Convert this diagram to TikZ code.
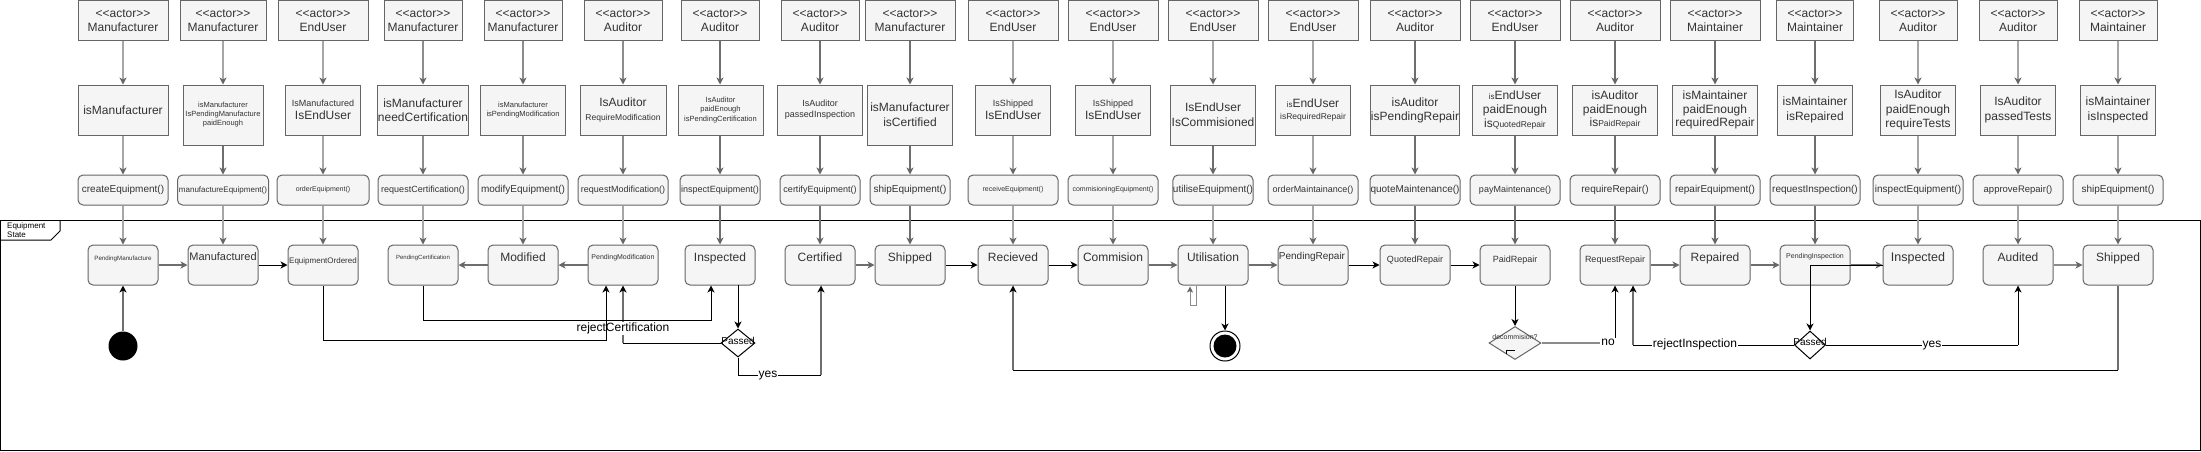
\documentclass[tikz,border=0pt]{standalone}
\usepackage{fontspec}
\setmainfont{Liberation Sans}
\usetikzlibrary{arrows.meta,shapes.geometric,calc}
\definecolor{bx}{HTML}{666666}
\definecolor{fl}{HTML}{F5F5F5}
\definecolor{tx}{HTML}{333333}
\definecolor{lg}{HTML}{A6A6A6}
\definecolor{mg}{HTML}{8C8C8C}
\definecolor{dg}{HTML}{6E6E6E}
\definecolor{ah}{HTML}{666666}
\newcommand\fsz[2]{\fontsize{#1}{#2}\selectfont}
\newcommand\actr{<{}<actor>{}>}
\begin{document}
\begin{tikzpicture}[x=1pt,y=-1pt,
 actor/.style={rectangle,draw=bx,fill=fl,text=tx,line width=1pt,inner sep=0pt,minimum height=40pt,align=center,font=\fsz{12}{14}},
 guard/.style={rectangle,draw=bx,fill=fl,text=tx,line width=1pt,inner sep=0pt,align=center,font=\fsz{12}{14}},
 meth/.style={rectangle,rounded corners=5pt,draw=bx,fill=fl,text=tx,line width=1pt,inner sep=0pt,minimum height=30pt,align=center},
 st/.style={rectangle,rounded corners=5pt,draw=bx,fill=fl,line width=1pt,inner sep=0pt,minimum width=70pt,minimum height=40pt},
 stl/.style={text=tx,inner sep=0pt,anchor=mid},
 tipg/.style={-{Stealth[length=7pt,width=7pt,inset=2pt,color=ah]}},
 tipk/.style={-{Stealth[length=7pt,width=7pt,inset=2pt,color=black]}},
 cg/.style={draw=dg,line width=1.2pt,tipg},
 ck/.style={draw=black,line width=1pt,tipk},
 lbl/.style={fill=white,inner sep=1pt,text=black,font=\fsz{12}{14},anchor=mid},
 dia/.style={diamond,draw=black,fill=white,line width=1pt,inner sep=0pt},
]
\useasboundingbox (0,0) rectangle (2201,451);
% frame
\draw[black,line width=1pt] (0.5,220) rectangle (2200,450);
\draw[black,line width=1pt] (0.5,240) -- (51,240) -- (60,231) -- (60,220);
\node[anchor=north west,align=left,font=\fsz{8}{9.5},text=black,inner sep=0pt] (frl) at (7,222) {Equipment\\State};

% actors
\node[actor,minimum width=90pt] (a1) at (123,20.5) {\actr\\Manufacturer};
\node[actor,minimum width=86pt] (a2) at (223,20.5) {\actr\\Manufacturer};
\node[actor,minimum width=90pt] (a3) at (323,20.5) {\actr\\EndUser};
\node[actor,minimum width=78pt] (a4) at (423,20.5) {\actr\\Manufacturer};
\node[actor,minimum width=78pt] (a5) at (523,20.5) {\actr\\Manufacturer};
\node[actor,minimum width=78pt] (a6) at (623,20.5) {\actr\\Auditor};
\node[actor,minimum width=78pt] (a7) at (720,20.5) {\actr\\Auditor};
\node[actor,minimum width=78pt] (a8) at (820,20.5) {\actr\\Auditor};
\node[actor,minimum width=90pt] (a9) at (910,20.5) {\actr\\Manufacturer};
\node[actor,minimum width=90pt] (a10) at (1013,20.5) {\actr\\EndUser};
\node[actor,minimum width=90pt] (a11) at (1113,20.5) {\actr\\EndUser};
\node[actor,minimum width=90pt] (a12) at (1213,20.5) {\actr\\EndUser};
\node[actor,minimum width=90pt] (a13) at (1313,20.5) {\actr\\EndUser};
\node[actor,minimum width=90pt] (a14) at (1415,20.5) {\actr\\Auditor};
\node[actor,minimum width=90pt] (a15) at (1515,20.5) {\actr\\EndUser};
\node[actor,minimum width=90pt] (a16) at (1615,20.5) {\actr\\Auditor};
\node[actor,minimum width=90pt] (a17) at (1715,20.5) {\actr\\Maintainer};
\node[actor,minimum width=77pt] (a18) at (1815,20.5) {\actr\\Maintainer};
\node[actor,minimum width=78pt] (a19) at (1918,20.5) {\actr\\Auditor};
\node[actor,minimum width=78pt] (a20) at (2018,20.5) {\actr\\Auditor};
\node[actor,minimum width=78pt] (a21) at (2118,20.5) {\actr\\Maintainer};

% guards
\node[guard,minimum width=90pt,minimum height=50pt] (g1) at (123,110) {isManufacturer};
\node[guard,minimum width=80pt,minimum height=60pt,font=\fsz{7.5}{9}] (g2) at (223,115) {isManufacturer\\IsPendingManufacture\\paidEnough};
\node[guard,minimum width=75pt,minimum height=50pt,font=\fsz{12}{13}] (g3) at (323,110) {{\fsz{9}{11}IsManufactured}\\IsEndUser};
\node[guard,minimum width=86pt,minimum height=50pt] (g4) at (423,110) {isManufacturer\\needCertification};
\node[guard,minimum width=85pt,minimum height=50pt,font=\fsz{7.5}{9.5}] (g5) at (523,110) {isManufacturer\\isPendingModification};
\node[guard,minimum width=86pt,minimum height=50pt] (g6) at (623,110) {IsAuditor\\{\fsz{8.5}{10}RequireModification}};
\node[guard,minimum width=85pt,minimum height=50pt,font=\fsz{7.5}{9.5}] (g7) at (720.5,110) {IsAuditor\\paidEnough\\isPendingCertification};
\node[guard,minimum width=85pt,minimum height=50pt,font=\fsz{9}{11}] (g8) at (820,110) {IsAuditor\\passedInspection};
\node[guard,minimum width=85pt,minimum height=60pt,font=\fsz{12}{15}] (g9) at (910,115) {isManufacturer\\isCertified};
\node[guard,minimum width=75pt,minimum height=50pt,font=\fsz{12}{13}] (g10) at (1013,110) {{\fsz{9}{11}IsShipped}\\IsEndUser};
\node[guard,minimum width=75pt,minimum height=50pt,font=\fsz{12}{13}] (g11) at (1113,110) {{\fsz{9}{11}IsShipped}\\IsEndUser};
\node[guard,minimum width=85pt,minimum height=60pt,font=\fsz{12}{15}] (g12) at (1213,115) {IsEndUser\\IsCommisioned};
\node[guard,minimum width=75pt,minimum height=50pt,font=\fsz{12}{12}] (g13) at (1313,110) {{\fsz{8}{9}is}EndUser\\{\fsz{8.5}{10}isRequiredRepair}};
\node[guard,minimum width=83pt,minimum height=50pt] (g14) at (1415,110) {isAuditor\\isPendingRepair};
\node[guard,minimum width=85pt,minimum height=50pt] (g15) at (1515,110) {{\fsz{8}{9}is}EndUser\\paidEnough\\is{\fsz{8.5}{10}QuotedRepair}};
\node[guard,minimum width=85pt,minimum height=50pt,font=\fsz{12}{13.5}] (g16) at (1615,110) {isAuditor\\paidEnough\\is{\fsz{8.5}{10}PaidRepair}};
\node[guard,minimum width=85pt,minimum height=50pt,font=\fsz{12}{13.5}] (g17) at (1715,110) {isMaintainer\\paidEnough\\requiredRepair};
\node[guard,minimum width=75pt,minimum height=50pt,font=\fsz{12}{15}] (g18) at (1815,110) {isMaintainer\\isRepaired};
\node[guard,minimum width=75pt,minimum height=50pt,font=\fsz{12}{14.5}] (g19) at (1918,110) {IsAuditor\\paidEnough\\requireTests};
\node[guard,minimum width=75pt,minimum height=50pt,font=\fsz{12}{15}] (g20) at (2018,110) {IsAuditor\\passedTests};
\node[guard,minimum width=75pt,minimum height=50pt,font=\fsz{12}{15}] (g21) at (2118,110) {isMaintainer\\isInspected};

% methods
\node[meth,minimum width=90pt,font=\fsz{10}{12}] (m1) at (123,190) {createEquipment()};
\node[meth,minimum width=91pt,font=\fsz{8}{10}] (m2) at (223,190) {manufactureEquipment()};
\node[meth,minimum width=92pt,font=\fsz{7}{9}] (m3) at (323,190) {orderEquipment()};
\node[meth,minimum width=90pt,font=\fsz{9}{11}] (m4) at (423,190) {requestCertification()};
\node[meth,minimum width=90pt,font=\fsz{10}{12}] (m5) at (523,190) {modifyEquipment()};
\node[meth,minimum width=90pt,font=\fsz{9}{11}] (m6) at (623,190) {requestModification()};
\node[meth,minimum width=80pt,font=\fsz{9}{11}] (m7) at (720,190) {inspectEquipment()};
\node[meth,minimum width=80pt,font=\fsz{9}{11}] (m8) at (820,190) {certifyEquipment()};
\node[meth,minimum width=80pt,font=\fsz{10}{12}] (m9) at (910,190) {shipEquipment()};
\node[meth,minimum width=90pt,font=\fsz{7}{9}] (m10) at (1013,190) {receiveEquipment()};
\node[meth,minimum width=90pt,font=\fsz{7}{9}] (m11) at (1113,190) {commisioningEquipment()};
\node[meth,minimum width=80pt,font=\fsz{10}{12}] (m12) at (1213,190) {utiliseEquipment()};
\node[meth,minimum width=90pt,font=\fsz{9}{11}] (m13) at (1313,190) {orderMaintainance()};
\node[meth,minimum width=90pt,font=\fsz{10}{12}] (m14) at (1415,190) {quoteMaintenance()};
\node[meth,minimum width=90pt,font=\fsz{9}{11}] (m15) at (1515,190) {payMaintenance()};
\node[meth,minimum width=90pt,font=\fsz{10}{12}] (m16) at (1615,190) {requireRepair()};
\node[meth,minimum width=90pt,font=\fsz{10}{12}] (m17) at (1715,190) {repairEquipment()};
\node[meth,minimum width=90pt,font=\fsz{10}{12}] (m18) at (1815,190) {requestInspection()};
\node[meth,minimum width=90pt,font=\fsz{10}{12}] (m19) at (1918,190) {inspectEquipment()};
\node[meth,minimum width=90pt,font=\fsz{9.5}{12}] (m20) at (2018,190) {approveRepair()};
\node[meth,minimum width=90pt,font=\fsz{10}{12}] (m21) at (2118,190) {shipEquipment()};

% states
\foreach \i/\x in {1/123,2/223,3/323,4/423,5/523,6/623,7/720,8/820,9/910,10/1013,11/1113,12/1213,13/1313,14/1415,15/1515,16/1615,17/1715,18/1815,19/1918,20/2018,21/2118}
  {\node[st] (s\i) at (\x,265) {};}
\node[stl,font=\fsz{6.2}{7}] (t1) at (123,258) {PendingManufacture};
\node[stl,font=\fsz{11}{13}] (t2) at (223,258) {Manufactured};
\node[stl,font=\fsz{8}{10}] (t3) at (323,261) {EquipmentOrdered};
\node[stl,font=\fsz{6}{7}] (t4) at (423,257) {PendingCertification};
\node[stl,font=\fsz{12}{14}] (t5) at (523,259) {Modified};
\node[stl,font=\fsz{7}{8}] (t6) at (623,257) {PendingModification};
\node[stl,font=\fsz{12}{14}] (t7) at (720,259) {Inspected};
\node[stl,font=\fsz{12}{14}] (t8) at (820,259) {Certified};
\node[stl,font=\fsz{12}{14}] (t9) at (910,259) {Shipped};
\node[stl,font=\fsz{12}{14}] (t10) at (1013,259) {Recieved};
\node[stl,font=\fsz{12}{14}] (t11) at (1113,259) {Commision};
\node[stl,font=\fsz{12}{14}] (t12) at (1213,259) {Utilisation};
\node[stl,font=\fsz{10}{12}] (t13) at (1312,257) {PendingRepair};
\node[stl,font=\fsz{9}{11}] (t14) at (1415,260) {QuotedRepair};
\node[stl,font=\fsz{9}{11}] (t15) at (1515,260) {PaidRepair};
\node[stl,font=\fsz{9}{11}] (t16) at (1615,260) {RequestRepair};
\node[stl,font=\fsz{12}{14}] (t17) at (1715,259) {Repaired};
\node[stl,font=\fsz{7}{8}] (t18) at (1815,256) {PendingInspection};
\node[stl,font=\fsz{12.5}{14}] (t19) at (1918,259) {Inspected};
\node[stl,font=\fsz{12}{14}] (t20) at (2018,259) {Audited};
\node[stl,font=\fsz{12}{14}] (t21) at (2118,259) {Shipped};

% vertical flow arrows
\foreach \i/\ca/\cb/\cc in {1/lg/lg/lg,2/lg/dg/lg,3/lg/lg/lg,4/mg/mg/lg,5/mg/mg/lg,6/mg/mg/lg,7/dg/dg/dg,8/dg/dg/dg,9/dg/dg/dg,10/lg/lg/lg,11/lg/lg/lg,12/lg/dg/lg,13/lg/lg/lg,14/dg/dg/dg,15/dg/dg/dg,16/dg/dg/dg,17/dg/dg/dg,18/dg/dg/dg,19/lg/lg/lg,20/lg/lg/lg,21/lg/lg/lg}
{
  \draw[tipg,draw=\ca,line width=1.2pt] (a\i.south) -- (a\i.south |- g\i.north);
  \draw[tipg,draw=\cb,line width=1.2pt] (g\i.south -| a\i.south) -- (a\i.south |- m\i.north);
  \draw[tipg,draw=\cc,line width=1.2pt] (m\i.south -| a\i.south) -- (a\i.south |- s\i.north);
}

% horizontal state transitions
\draw[cg] (s1) -- (s2);
\draw[ck] (s2) -- (s3);
\draw[cg] (s5) -- (s4);
\draw[cg] (s6) -- (s5);
\draw[cg] (s8) -- (s9);
\draw[ck] (s9) -- (s10);
\draw[ck] (s10) -- (s11);
\draw[cg] (s11) -- (s12);
\draw[cg] (s12) -- (s13);
\draw[ck] (s13) -- (s14);
\draw[ck] (s14) -- (s15);
\draw[cg] (s16) -- (s17);
\draw[cg] (s17) -- (s18);
\draw[cg] (s18) -- (s19);
\draw[cg,draw=mg] (s20) -- (s21);

% initial and final states
\node[circle,fill=black,minimum size=29pt,inner sep=0pt] (init) at (123,346) {};
\draw[line width=1.5pt,draw=dg,tipk] (init) -- (s1);
\node[circle,draw=black,line width=1pt,fill=white,minimum size=30pt,inner sep=0pt] (fin) at (1225,346) {};
\node[circle,fill=black,minimum size=23pt,inner sep=0pt] (fini) at (1225,346) {};
\draw[ck] (s12.south -| fin) -- (fin);
% Utilisation tiny self loop
\coordinate (u1) at ($(s12.south)+(-17,0)$);
\coordinate (u2) at ($(s12.south)+(-17,20)$);
\coordinate (u3) at ($(s12.south)+(-23,20)$);
\coordinate (u4) at ($(s12.south)+(-23,1)$);
\draw[draw=mg,line width=1pt,-{Stealth[length=6pt,width=6pt,inset=1.5pt,color=ah]}] (u1) -- (u2) -- (u3) -- (u4);

% first Passed diamond
\node[dia,minimum width=34pt,minimum height=28pt] (d1) at (738,343) {};
\node[inner sep=0pt,font=\fsz{10}{12},text=black] (d1t) at (738,341) {Passed};
\coordinate (i7) at (738,285);
\draw[ck] (i7) -- (d1.north);
% reject certification
\coordinate (r1) at (623,343);
\draw[draw=black,line width=1pt] (d1.west) -- (r1);
\draw[draw=dg,line width=1.2pt,tipk] (r1) -- (s6.south);
\node[lbl] (rcl) at (623,329) {rejectCertification};
% EquipmentOrdered -> PendingModification
\coordinate (e1) at (323,340);
\coordinate (e2) at (606,340);
\draw[ck] (s3.south) -- (e1) -- (e2) -- (e2 |- s6.south);
% PendingCertification -> Inspected
\coordinate (p1) at (423,320);
\coordinate (p2) at (711,320);
\draw[ck] (s4.south) -- (p1) -- (p2) -- (p2 |- s7.south);
% yes -> Certified
\coordinate (y1) at (738,375);
\coordinate (y2) at (821,375);
\draw[draw=black,line width=1pt] (d1.south) -- (y1) -- (y2);
\draw[draw=dg,line width=1.2pt,tipk] (y2) -- (y2 |- s8.south);
\node[lbl] (yl1) at (768,375) {yes};

% Shipped -> Recieved return
\coordinate (b1) at (2118,370);
\coordinate (b2) at (1013,370);
\draw[draw=dg,line width=1.2pt] (s21.south) -- (b1);
\draw[draw=black,line width=1pt] (b1) -- (b2);
\draw[draw=dg,line width=1.2pt,tipk] (b2) -- (s10.south);

% decommision diamond
\node[diamond,draw=bx,fill=fl,line width=1pt,inner sep=0pt,minimum width=52pt,minimum height=33pt] (d2) at (1515,343) {};
\node[inner sep=0pt,font=\fsz{7}{8},text=tx] (d2t) at (1515,337) {decommision?};
\draw[black,line width=0.8pt] (1506.7,354) -- (1506.7,350.7) -- (1515.3,350.7);
\draw[ck] (s15.south) -- (d2.north);
\coordinate (n1) at (1615,343);
\draw[draw=mg,line width=1.5pt] (d2.east) -- (n1);
\draw[ck] (n1) -- (s16.south);
\node[lbl] (nl) at (1608,343) {no};

% second Passed diamond
\node[dia,minimum width=31pt,minimum height=28pt] (d3) at (1810,345) {};
\node[inner sep=0pt,font=\fsz{10}{12},text=black] (d3t) at (1810,342) {Passed};
\coordinate (q1) at (1810,265);
\draw[ck] (s19.west) -- (q1) -- (d3.north);
\coordinate (ri1) at (1633,345);
\draw[draw=black,line width=1pt] (d3.west) -- (ri1);
\draw[draw=dg,line width=1.2pt,tipk] (ri1) -- (ri1 |- s16.south);
\node[lbl] (ril) at (1695,345) {rejectInspection};
\coordinate (ya1) at (2018,345);
\draw[draw=black,line width=1pt] (d3.east) -- (ya1);
\draw[ck] (ya1) -- (s20.south);
\node[lbl] (yl2) at (1932,345) {yes};
\end{tikzpicture}
\end{document}
